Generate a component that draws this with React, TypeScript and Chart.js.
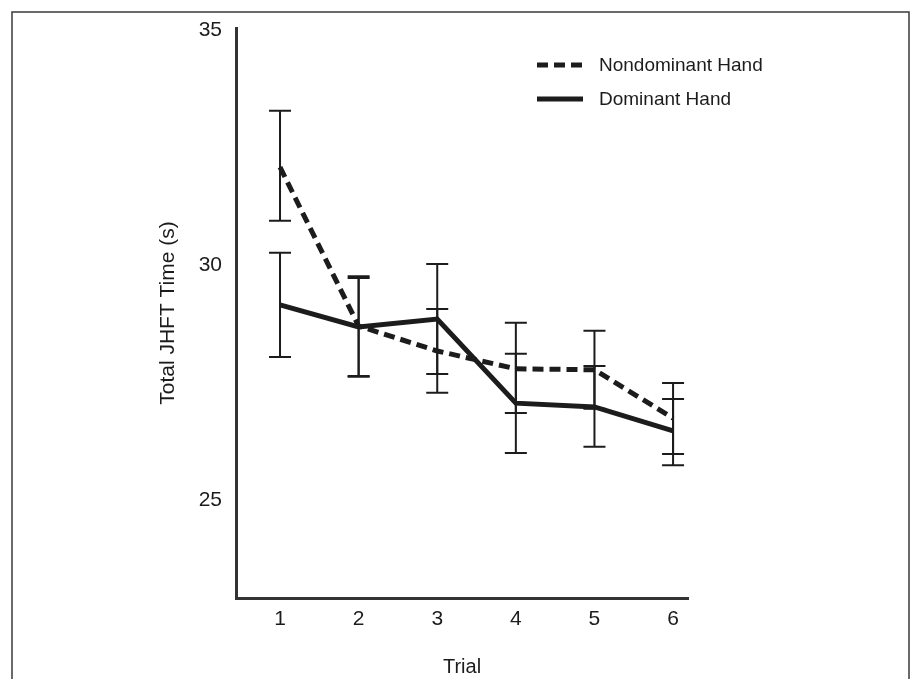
import React, { useEffect, useRef } from 'react';
import { Chart, registerables } from 'chart.js';

Chart.register(...registerables);

// ---- Data ----
const trials = [1, 2, 3, 4, 5, 6];
const yTickValues = [25, 30, 35];

const seriesLabels = ['Nondominant Hand', 'Dominant Hand'];

const nondomMean = [32.08, 28.7, 28.17, 27.79, 27.77, 26.74];
const nondomHigh = [33.28, 29.76, 29.06, 28.77, 28.6, 27.49];
const nondomLow = [30.94, 27.64, 27.28, 26.85, 26.94, 25.98];

const domMean = [29.15, 28.68, 28.85, 27.06, 26.98, 26.47];
const domHigh = [30.26, 29.72, 30.02, 28.11, 27.85, 27.15];
const domLow = [28.04, 27.62, 27.68, 26.0, 26.13, 25.74];

const FONT = '"Liberation Sans Narrow", "Liberation Sans", Arial, sans-serif';
const INK = '#1c1c1c';
const AXIS = '#333333';
const DASH = [11, 6];

export default function App() {
  const ref = useRef<HTMLCanvasElement>(null);

  useEffect(() => {
    const canvas = ref.current;
    if (!canvas) return;

    const framePlugin = {
      id: 'frame',
      beforeDraw(chart: any) {
        const c = chart.ctx;
        c.save();
        c.strokeStyle = '#3a3a3a';
        c.lineWidth = 1.5;
        c.beginPath();
        c.moveTo(12, 700);
        c.lineTo(12, 12);
        c.lineTo(909, 12);
        c.lineTo(909, 700);
        c.stroke();
        c.restore();
      },
    };

    const errorBarPlugin = {
      id: 'errorBars',
      beforeDatasetsDraw(chart: any) {
        const c = chart.ctx;
        const xs = chart.scales.x;
        const ys = chart.scales.y;
        const groups = [
          { hi: nondomHigh, lo: nondomLow },
          { hi: domHigh, lo: domLow },
        ];
        c.save();
        c.strokeStyle = INK;
        c.lineWidth = 2;
        c.lineCap = 'butt';
        const half = 11;
        groups.forEach((g) => {
          trials.forEach((t, i) => {
            const x = xs.getPixelForValue(t);
            const yh = ys.getPixelForValue(g.hi[i]);
            const yl = ys.getPixelForValue(g.lo[i]);
            c.beginPath();
            c.moveTo(x, yh);
            c.lineTo(x, yl);
            c.moveTo(x - half, yh);
            c.lineTo(x + half, yh);
            c.moveTo(x - half, yl);
            c.lineTo(x + half, yl);
            c.stroke();
          });
        });
        c.restore();
      },
    };

    const legendPlugin = {
      id: 'customLegend',
      afterDraw(chart: any) {
        const c = chart.ctx;
        const area = chart.chartArea;
        const x0 = area.left + 301;
        const items = [
          { label: seriesLabels[0], dash: DASH, y: area.top + 37 },
          { label: seriesLabels[1], dash: [] as number[], y: area.top + 71 },
        ];
        c.save();
        items.forEach((it) => {
          c.strokeStyle = INK;
          c.lineWidth = 5;
          c.lineCap = 'butt';
          c.setLineDash(it.dash);
          c.beginPath();
          c.moveTo(x0, it.y);
          c.lineTo(x0 + 46, it.y);
          c.stroke();
          c.setLineDash([]);
          c.fillStyle = INK;
          c.font = `19px ${FONT}`;
          c.textBaseline = 'middle';
          c.textAlign = 'left';
          c.fillText(it.label, x0 + 62, it.y + 1);
        });
        c.restore();
      },
    };

    const chart = new Chart(canvas, {
      type: 'line',
      data: {
        datasets: [
          {
            label: seriesLabels[1],
            data: trials.map((t, i) => ({ x: t, y: domMean[i] })),
            borderColor: INK,
            borderWidth: 5,
            pointRadius: 0,
            tension: 0,
            fill: false,
            order: 0,
          },
          {
            label: seriesLabels[0],
            data: trials.map((t, i) => ({ x: t, y: nondomMean[i] })),
            borderColor: INK,
            borderWidth: 5,
            borderDash: DASH,
            pointRadius: 0,
            tension: 0,
            fill: false,
            order: 1,
          },
        ],
      },
      options: {
        responsive: false,
        animation: false,
        devicePixelRatio: 1,
        layout: { padding: { left: 0, top: 28, right: 225, bottom: 0 } },
        plugins: {
          legend: { display: false },
          tooltip: { enabled: false },
        },
        scales: {
          x: {
            type: 'linear',
            min: 0.44,
            max: 6.19,
            grid: { display: false, drawTicks: false },
            border: { display: true, color: AXIS, width: 3 },
            afterBuildTicks: (s: any) => {
              s.ticks = trials.map((v) => ({ value: v }));
            },
            afterFit: (s: any) => {
              s.height = 81;
            },
            ticks: {
              color: INK,
              padding: 9,
              font: { family: FONT, size: 21 },
              callback: (v: any) => String(v),
            },
            title: {
              display: true,
              text: 'Trial',
              color: INK,
              font: { family: FONT, size: 20 },
              padding: { top: 0, bottom: 0 },
            },
          },
          y: {
            type: 'linear',
            min: 22.915,
            max: 35.04,
            grid: { display: false, drawTicks: false },
            border: { display: true, color: AXIS, width: 3 },
            afterBuildTicks: (s: any) => {
              s.ticks = yTickValues.map((v) => ({ value: v }));
            },
            afterFit: (s: any) => {
              s.width = 236;
            },
            ticks: {
              color: INK,
              padding: 14,
              font: { family: FONT, size: 21 },
              callback: (v: any) => String(v),
            },
            title: {
              display: true,
              text: 'Total JHFT Time (s)',
              color: INK,
              font: { family: FONT, size: 21 },
              padding: { top: 156, bottom: 0 },
            },
          },
        },
      },
      plugins: [framePlugin, errorBarPlugin, legendPlugin],
    });

    return () => chart.destroy();
  }, []);

  return (
    <div style={{ position: 'absolute', left: 0, top: 0, width: 913, height: 679, background: '#fff' }}>
      <canvas ref={ref} width={913} height={679} style={{ display: 'block' }} />
    </div>
  );
}
